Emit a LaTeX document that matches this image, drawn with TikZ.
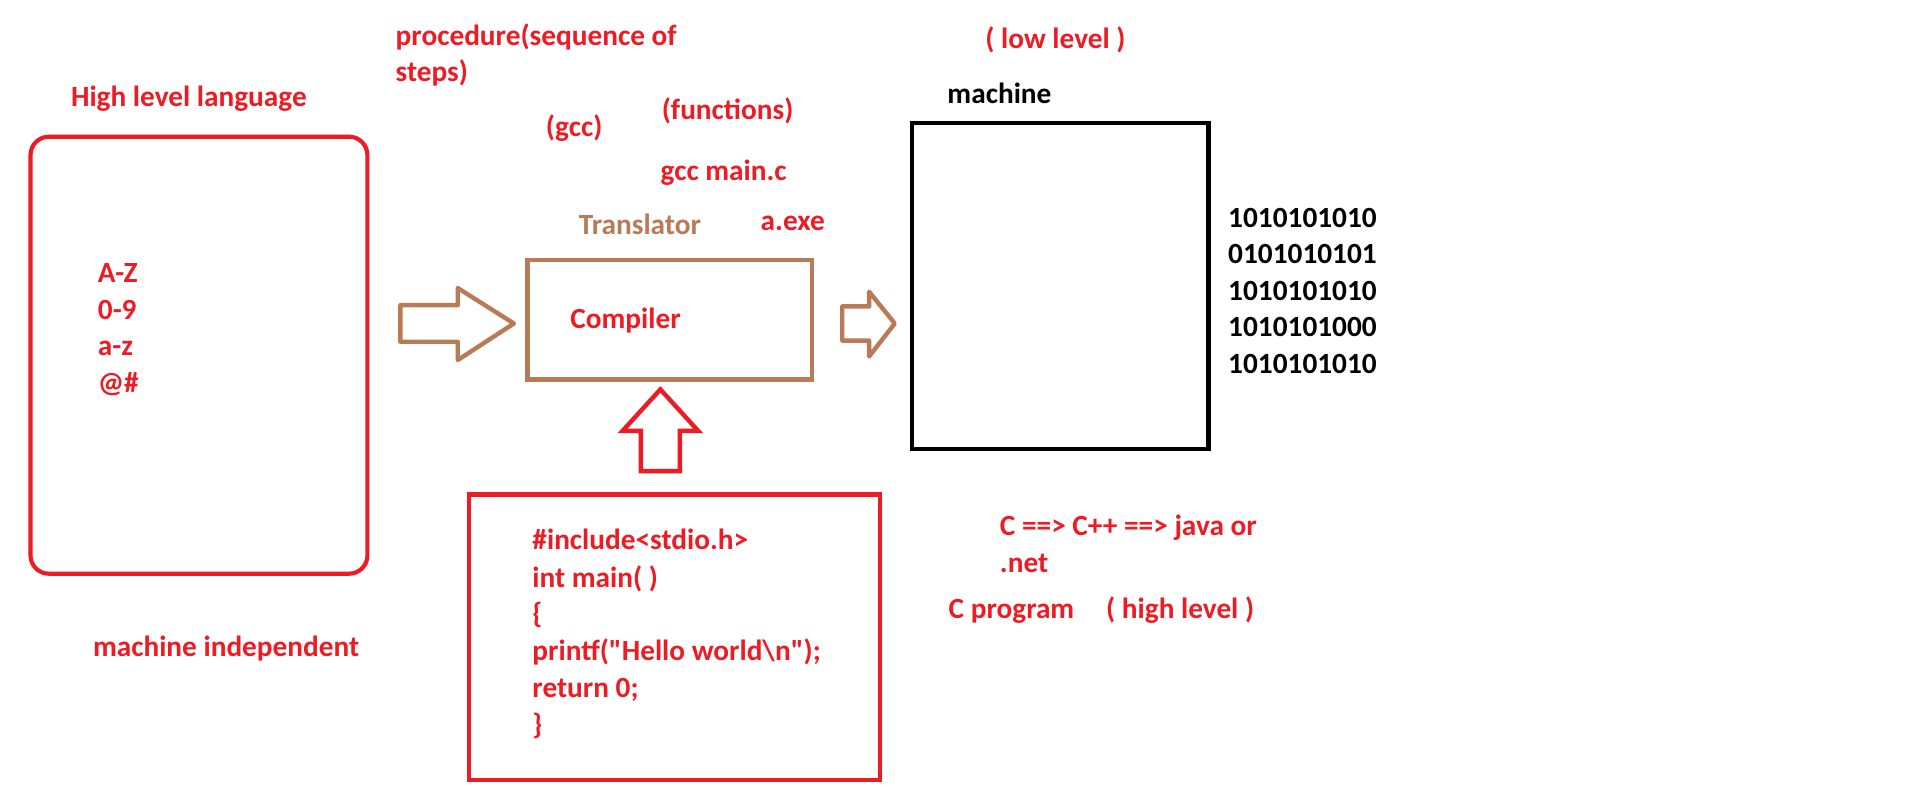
\documentclass[tikz,border=0pt]{standalone}
\usepackage{fontspec}
\setmainfont{Carlito}[Ligatures=TeXOff]
\definecolor{pred}{HTML}{ED1C24}
\definecolor{pbrown}{HTML}{B97A57}
\begin{document}
\begin{tikzpicture}[x=1pt,y=-1pt,
  txt/.style={anchor=base west, inner sep=0pt, font=\fontsize{24}{30}\selectfont\bfseries},
  redtxt/.style={txt, text=pred},
  blktxt/.style={txt, text=black},
  brtxt/.style={txt, text=pbrown},
  boxline/.style={line width=3.4pt},
  blockarrow/.style={line width=3.6pt, line join=round}]
\useasboundingbox (0,0) rectangle (1568,663);
\fill[white] (0,0) rectangle (1568,663);

% left rounded box
\draw[boxline, pred, rounded corners=15pt] (25,112) rectangle (301,470);
\node[redtxt] (hll) at (58,87.5) {High level language};
\node[redtxt] (az) at (80,231.5) {A-Z};
\node[redtxt] (d09) at (80,261.5) {0-9};
\node[redtxt] (lz) at (80,291.5) {a-z};
\node[redtxt] (sym) at (80,321.5) {@\#};
\node[redtxt] (mi) at (76,538) {machine independent};

% top texts
\node[redtxt] (proc1) at (324,37) {procedure(sequence of};
\node[redtxt] (proc2) at (324,67) {steps)};
\node[redtxt] (gcc) at (447,112) {(gcc)};
\node[redtxt] (fun) at (542,97.5) {(functions)};
\node[redtxt] (gmc) at (541,147.5) {gcc main.c};
\node[brtxt] (tr) at (474,192.5) {Translator};
\node[redtxt] (aexe) at (623,188.5) {a.exe};

% compiler box
\draw[boxline, pbrown, line width=3.6pt] (432,213) rectangle (665,311);
\node[redtxt] (comp) at (467,269) {Compiler};

% left block arrow
\draw[blockarrow, pbrown] (328,250) -- (375,250) -- (375,236) -- (421,265)
  -- (375,295) -- (375,280) -- (328,280) -- cycle;
% right block arrow
\draw[blockarrow, pbrown] (690,251) -- (712,251) -- (712,239) -- (733,265)
  -- (712,292) -- (712,279) -- (690,279) -- cycle;
% red up arrow
\draw[blockarrow, pred, line join=miter] (541,319) -- (572,353) -- (557,353) -- (557,386)
  -- (525,386) -- (525,353) -- (510,353) -- cycle;

% code box
\draw[boxline, pred, line width=3.6pt] (384,405) rectangle (721,639);
\node[redtxt] (c1) at (436,450.5) {\#include<stdio.h>};
\node[redtxt] (c2) at (436,481) {int main( )};
\node[redtxt] (c3) at (436,511) {\{};
\node[redtxt] (c4) at (436,541) {printf("Hello world\textbackslash n");};
\node[redtxt] (c5) at (436,571.5) {return 0;};
\node[redtxt] (c6) at (436,601.5) {\}};

% machine box
\draw[boxline, black, line width=3.6pt] (747,101) rectangle (990,368);
\node[blktxt] (mach) at (776,85) {machine};
\node[redtxt] (low) at (807,39.5) {( low level )};
\node[blktxt] (b1) at (1006,186) {1010101010};
\node[blktxt] (b2) at (1006,216) {0101010101};
\node[blktxt] (b3) at (1006,246) {1010101010};
\node[blktxt] (b4) at (1006,276) {1010101000};
\node[blktxt] (b5) at (1006,306) {1010101010};

% bottom right texts
\node[redtxt] (cc) at (819,439) {C ==> C++ ==> java or};
\node[redtxt] (net) at (819,469) {.net};
\node[redtxt] (cp) at (777,506.5) {C program};
\node[redtxt] (hl) at (906,507) {( high level )};
\end{tikzpicture}
\end{document}
